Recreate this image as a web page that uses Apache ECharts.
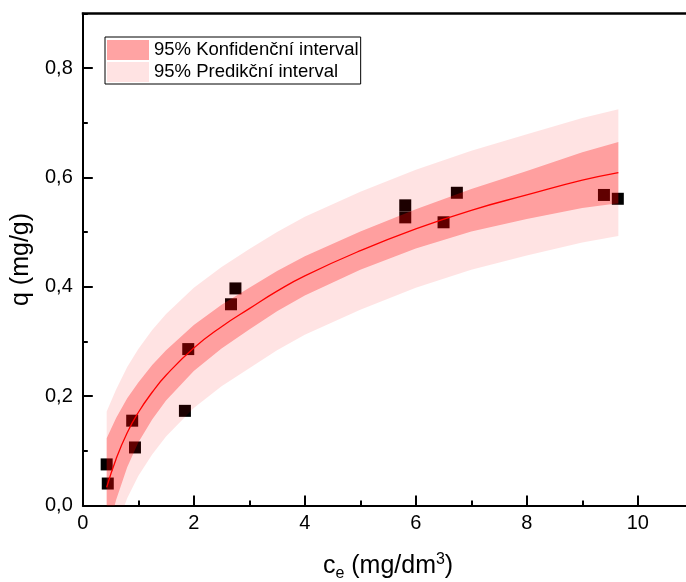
<!DOCTYPE html>
<html><head><meta charset="utf-8">
<script src="https://cdn.jsdelivr.net/npm/echarts@6/dist/echarts.min.js"></script>
<style>html,body{margin:0;padding:0;background:#fff}#c{width:686px;height:582px}</style>
</head><body><div id="c"></div>
<script>
// measured points
const ceValues = [0.43, 0.45, 0.89, 0.94, 1.84, 1.90, 2.67, 2.75, 5.81, 5.81, 6.50, 6.74, 9.39, 9.64];
const qValues  = [0.075, 0.040, 0.155, 0.106, 0.173, 0.286, 0.368, 0.397, 0.549, 0.527, 0.518, 0.572, 0.568, 0.561];
// fitted curve
const fitCe = [0.43, 0.6, 0.8, 1.0, 1.25, 1.5, 2.0, 2.5, 3.0, 3.5, 4.0, 5.0, 6.0, 7.0, 8.0, 9.0, 9.65];
const fitQ  = [0.033, 0.085, 0.133, 0.170, 0.207, 0.238, 0.288, 0.327, 0.360, 0.392, 0.420, 0.466, 0.506, 0.540, 0.568, 0.595, 0.609];
// bands
const bandCe     = [0.43, 0.6, 0.8, 1.0, 1.25, 1.5, 2.0, 2.5, 3.0, 3.5, 4.0, 5.0, 6.0, 7.0, 8.0, 9.0, 9.65];
const predUpper  = [0.172, 0.212, 0.253, 0.286, 0.321, 0.350, 0.398, 0.436, 0.469, 0.500, 0.528, 0.574, 0.614, 0.649, 0.679, 0.709, 0.725];
const confUpper  = [0.123, 0.160, 0.196, 0.225, 0.257, 0.284, 0.330, 0.367, 0.398, 0.429, 0.456, 0.501, 0.542, 0.579, 0.612, 0.646, 0.665];
const confLower  = [-0.055, 0.010, 0.070, 0.115, 0.157, 0.192, 0.246, 0.287, 0.322, 0.355, 0.384, 0.431, 0.470, 0.501, 0.524, 0.544, 0.553];
const predLower  = [-0.102, -0.042, 0.013, 0.054, 0.093, 0.126, 0.178, 0.218, 0.251, 0.284, 0.312, 0.358, 0.398, 0.431, 0.457, 0.481, 0.493];
const legendNames = ['95% Konfidenční interval', '95% Predikční interval'];
const yTitle = 'q (mg/g)';
const yMax = 0.9, xMax = 11;

const FONT = 'Liberation Sans, Arial, sans-serif';
const fmt = v => v.toFixed(1).replace('.', ',');

function band(name, upper, lower, color, z) {
  return {
    type: 'custom', name: name, z: z, clip: true, silent: true,
    itemStyle: { color: color },
    data: [0],
    renderItem: function (params, api) {
      const pts = [];
      for (let i = 0; i < bandCe.length; i++) pts.push(api.coord([bandCe[i], upper[i]]));
      for (let i = bandCe.length - 1; i >= 0; i--) pts.push(api.coord([bandCe[i], lower[i]]));
      return { type: 'polygon', shape: { points: pts }, style: { fill: color } };
    }
  };
}

// frame's top edge, drawn by a custom series through the axes' own scale
const frameSeries = {
  type: 'custom', name: 'frame', z: 10, clip: false, silent: true,
  data: [0],
  renderItem: function (params, api) {
    const a = api.coord([0, yMax]);
    const b = api.coord([xMax, yMax]);
    return { type: 'rect', shape: { x: a[0] - 1, y: a[1] - 1.25, width: b[0] - a[0] + 1, height: 2.5 },
             style: { fill: '#000' } };
  }
};

const chart = echarts.init(document.getElementById('c'), null, { renderer: 'canvas' });
chart.setOption({
  animation: false,
  textStyle: { fontFamily: FONT },
  grid: { left: 82.8, top: 13.5, bottom: 76.6, right: -7.3, outerBoundsMode: 'none', containLabel: false },
  legend: {
    orient: 'vertical', left: 105, top: 37, padding: [3, 2, 2, 2], itemGap: 2,
    itemWidth: 42, itemHeight: 20, borderColor: '#000', borderWidth: 1,
    textStyle: { fontFamily: FONT, fontSize: 18.5, color: '#000' },
    data: [
      { name: legendNames[0], icon: 'rect', itemStyle: { color: '#ffa3a3' } },
      { name: legendNames[1], icon: 'rect', itemStyle: { color: '#ffe3e3' } }
    ]
  },
  xAxis: [
    { type: 'value', min: 0, max: xMax, interval: 2, position: 'bottom',
      axisLine: { onZero: false, lineStyle: { color: '#000', width: 2 } },
      axisTick: { inside: true, length: 10, lineStyle: { color: '#000', width: 2 } },
      axisLabel: { fontSize: 20, color: '#000', margin: 8, fontFamily: FONT, showMaxLabel: false },
      splitLine: { show: false },
      name: '{c|c}{e|e}{c| (mg/dm}{s|3}{c|)}', nameLocation: 'middle', nameGap: 46,
      nameTextStyle: { rich: {
        c: { fontSize: 25, fontFamily: FONT, color: '#000' },
        e: { fontSize: 16, fontFamily: FONT, color: '#000', verticalAlign: 'bottom', padding: [14, 0, 0, 0] },
        s: { fontSize: 16, fontFamily: FONT, color: '#000', verticalAlign: 'top', padding: [0, 0, 12, 0] }
      } }
    },
    { type: 'value', min: 0, max: xMax, interval: 1, position: 'bottom', gridIndex: 0,
      axisLine: { show: false, onZero: false }, axisLabel: { show: false }, splitLine: { show: false },
      axisTick: { inside: true, length: 5, lineStyle: { color: '#000', width: 2 } } }
  ],
  yAxis: [
    { type: 'value', min: 0, max: yMax, interval: 0.2, position: 'left',
      axisLine: { show: true, onZero: false, lineStyle: { color: '#000', width: 2 } },
      axisTick: { show: true, inside: true, length: 10, lineStyle: { color: '#000', width: 2 } },
      axisLabel: { fontSize: 20, color: '#000', margin: 10, fontFamily: FONT, formatter: fmt, showMaxLabel: false },
      splitLine: { show: false },
      name: yTitle, nameLocation: 'middle', nameGap: 43, nameRotate: 90,
      nameTextStyle: { fontSize: 25, fontFamily: FONT, color: '#000' }
    },
    { type: 'value', min: 0, max: yMax, interval: 0.1, position: 'left',
      axisLine: { show: false, onZero: false }, axisLabel: { show: false }, splitLine: { show: false },
      axisTick: { show: true, inside: true, length: 5, lineStyle: { color: '#000', width: 2 } } }
  ],
  series: [
    { type: 'scatter', name: 'data', z: 1, symbol: 'rect', symbolSize: 12,
      itemStyle: { color: '#000', opacity: 1 }, silent: true,
      data: ceValues.map((c, i) => [c, qValues[i]]) },
    band(legendNames[1], predUpper, predLower, 'rgba(255,0,0,0.11)', 2),
    band(legendNames[0], confUpper, confLower, 'rgba(255,0,0,0.30)', 3),
    { type: 'line', name: 'fit', z: 4, smooth: 0.5, showSymbol: false, silent: true,
      lineStyle: { color: '#ff0000', width: 1.3 },
      data: fitCe.map((c, i) => [c, fitQ[i]]) },
    frameSeries
  ]
});
</script>
</body></html>
